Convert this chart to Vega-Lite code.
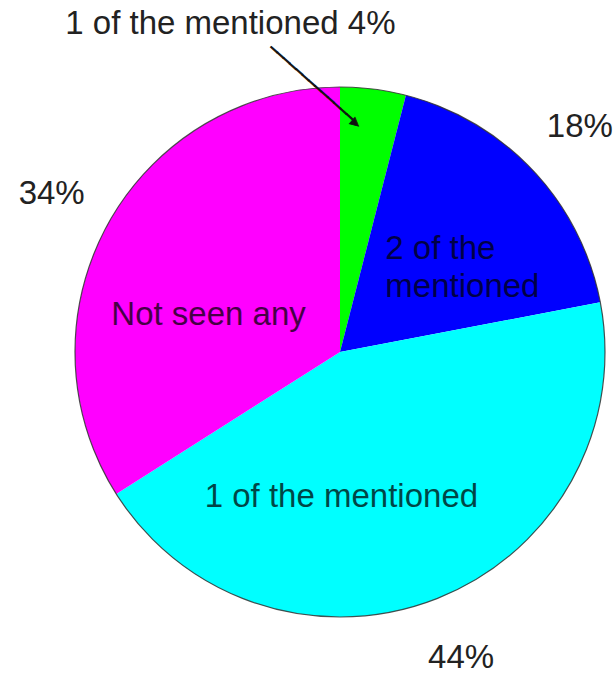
{
  "$schema": "https://vega.github.io/schema/vega-lite/v6.json",
  "width": 530,
  "height": 530,
  "autosize": {"type": "none"},
  "padding": {"left": 75, "top": 87, "right": 11, "bottom": 60},
  "background": "white",
  "config": {"view": {"stroke": null}, "text": {"font": "Liberation Sans"}},
  "data": {
    "values": [
      {"slice": "1 of the mentioned (small)", "value": 4, "order": 1, "label": "1 of the mentioned 4%", "inside": ""},
      {"slice": "2 of the mentioned", "value": 18, "order": 2, "label": "18%", "inside": "2 of the\nmentioned"},
      {"slice": "1 of the mentioned", "value": 44, "order": 3, "label": "44%", "inside": "1 of the mentioned"},
      {"slice": "Not seen any", "value": 34, "order": 4, "label": "34%", "inside": "Not seen any"}
    ]
  },
  "layer": [
    {
      "mark": {"type": "arc", "stroke": null},
      "encoding": {
        "theta": {"field": "value", "type": "quantitative", "stack": true},
        "order": {"field": "order", "type": "quantitative"},
        "color": {
          "field": "slice",
          "type": "nominal",
          "scale": {
            "domain": ["1 of the mentioned (small)", "2 of the mentioned", "1 of the mentioned", "Not seen any"],
            "range": ["#00ff00", "#0000ff", "#00ffff", "#ff00ff"]
          },
          "legend": null
        }
      }
    },
    {
      "transform": [{"aggregate": [{"op": "sum", "field": "value", "as": "total"}]}],
      "mark": {"type": "arc", "fill": null, "filled": false, "stroke": "#333333", "strokeWidth": 1.2, "strokeOpacity": 0.85},
      "encoding": {
        "theta": {"field": "total", "type": "quantitative"}
      }
    },
    {
      "mark": {"type": "text", "radius": 331, "align": "right", "baseline": "middle", "dx": 14, "fontSize": 33, "fill": "#222222"},
      "encoding": {
        "theta": {"field": "value", "type": "quantitative", "stack": true},
        "order": {"field": "order", "type": "quantitative"},
        "text": {"condition": {"test": "datum.order == 1", "field": "label", "type": "nominal"}, "value": ""}
      }
    },
    {
      "mark": {"type": "text", "radius": 329, "align": "center", "baseline": "middle", "fontSize": 33, "fill": "#222222"},
      "encoding": {
        "theta": {"field": "value", "type": "quantitative", "stack": true},
        "order": {"field": "order", "type": "quantitative"},
        "text": {"condition": {"test": "datum.order > 1", "field": "label", "type": "nominal"}, "value": ""}
      }
    },
    {
      "mark": {"type": "text", "radius": 150, "dx": -64, "align": "left", "baseline": "middle", "fontSize": 33, "lineBreak": "\n", "lineHeight": 38, "fill": "#000000", "opacity": 0.72},
      "encoding": {
        "theta": {"field": "value", "type": "quantitative", "stack": true},
        "order": {"field": "order", "type": "quantitative"},
        "text": {"condition": {"test": "datum.order == 2", "field": "inside", "type": "nominal"}, "value": ""}
      }
    },
    {
      "mark": {"type": "text", "radius": 156, "dx": -56, "align": "center", "baseline": "middle", "fontSize": 33, "fill": "#000000", "opacity": 0.72},
      "encoding": {
        "theta": {"field": "value", "type": "quantitative", "stack": true},
        "order": {"field": "order", "type": "quantitative"},
        "text": {"condition": {"test": "datum.order == 3", "field": "inside", "type": "nominal"}, "value": ""}
      }
    },
    {
      "mark": {"type": "text", "radius": 150, "dy": 35, "align": "center", "baseline": "middle", "fontSize": 33, "fill": "#000000", "opacity": 0.72},
      "encoding": {
        "theta": {"field": "value", "type": "quantitative", "stack": true},
        "order": {"field": "order", "type": "quantitative"},
        "text": {"condition": {"test": "datum.order == 4", "field": "inside", "type": "nominal"}, "value": ""}
      }
    },
    {
      "mark": {"type": "text", "radius": 220, "dx": -71, "angle": 41.6, "align": "center", "baseline": "middle", "font": "DejaVu Sans Mono", "fontSize": 14, "fill": "#111111", "stroke": "#111111", "strokeWidth": 0.9},
      "encoding": {
        "theta": {"field": "value", "type": "quantitative", "stack": true},
        "order": {"field": "order", "type": "quantitative"},
        "text": {"condition": {"test": "datum.order == 1", "value": "─────────────▶"}, "value": ""}
      }
    }
  ]
}
